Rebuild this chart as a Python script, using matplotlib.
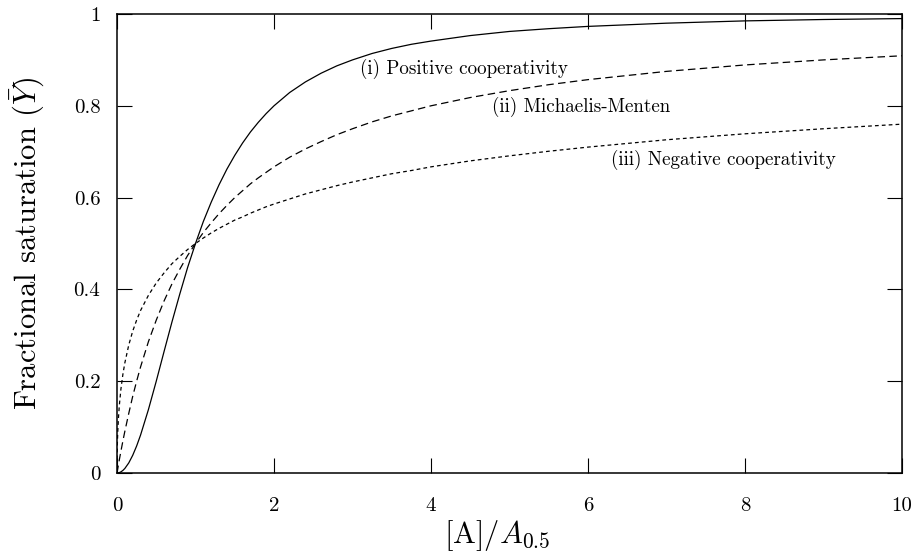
# Hill curves: fractional saturation vs normalised ligand concentration
import matplotlib
matplotlib.use("Agg")
import matplotlib.pyplot as plt

plt.rcParams['font.family'] = 'serif'
plt.rcParams['font.serif'] = ['cmr10']
plt.rcParams['mathtext.fontset'] = 'cm'
plt.rcParams['axes.formatter.use_mathtext'] = True

# values
conc = [0, 0.001, 0.005, 0.01, 0.02, 0.03, 0.05, 0.075, 0.1, 0.15, 0.2, 0.25,
        0.3, 0.4, 0.5, 0.6, 0.7, 0.8, 0.9, 1.0, 1.1, 1.2, 1.3, 1.4, 1.5, 1.6,
        1.7, 1.8, 1.9, 2.0, 2.2, 2.4, 2.6, 2.8, 3.0, 3.25, 3.5, 3.75, 4, 4.5,
        5, 5.5, 6, 7, 8, 9, 10]
positive = [0, 0, 0.00003, 0.0001, 0.0004, 0.0009, 0.0025, 0.0056, 0.0099,
            0.022, 0.0385, 0.0588, 0.0826, 0.138, 0.2, 0.265, 0.329, 0.390,
            0.448, 0.5, 0.548, 0.590, 0.628, 0.662, 0.692, 0.719, 0.743,
            0.764, 0.783, 0.8, 0.829, 0.852, 0.871, 0.887, 0.9, 0.914, 0.925,
            0.934, 0.941, 0.953, 0.962, 0.968, 0.973, 0.980, 0.985, 0.988,
            0.990]
michaelis = [0, 0.001, 0.005, 0.0099, 0.0196, 0.0291, 0.0476, 0.0698, 0.0909,
             0.130, 0.167, 0.2, 0.231, 0.286, 0.333, 0.375, 0.412, 0.444,
             0.474, 0.5, 0.524, 0.545, 0.565, 0.583, 0.6, 0.615, 0.630, 0.643,
             0.655, 0.667, 0.688, 0.706, 0.722, 0.737, 0.75, 0.765, 0.778,
             0.789, 0.8, 0.818, 0.833, 0.846, 0.857, 0.875, 0.889, 0.9, 0.909]
negative = [0, 0.031, 0.066, 0.0909, 0.124, 0.148, 0.183, 0.215, 0.240, 0.279,
            0.309, 0.333, 0.354, 0.387, 0.414, 0.436, 0.456, 0.472, 0.487,
            0.5, 0.512, 0.523, 0.533, 0.542, 0.551, 0.558, 0.566, 0.573,
            0.580, 0.586, 0.597, 0.608, 0.617, 0.626, 0.634, 0.643, 0.652,
            0.659, 0.667, 0.680, 0.691, 0.701, 0.710, 0.726, 0.739, 0.75,
            0.760]

labels = ['(i) Positive cooperativity', '(ii) Michaelis-Menten',
          '(iii) Negative cooperativity']
label_pos = [(3.10, 0.880), (4.78, 0.797), (6.29, 0.682)]

fig = plt.figure(figsize=(9.18, 5.51), dpi=100)
ax = fig.add_axes([117/918, 1 - 473/551, (902 - 117)/918, (473 - 14)/551])

ax.plot(conc, positive, color='black', lw=0.9)
ax.plot(conc, michaelis, color='black', lw=0.9, dashes=(6, 3.5))
ax.plot(conc, negative, color='black', lw=0.9, dashes=(3, 2.5))

for txt, (tx, ty) in zip(labels, label_pos):
    ax.text(tx, ty, txt, fontsize=13.7, ha='left', va='center')

ax.set_xlim(0, 10)
ax.set_ylim(0, 1)
ax.set_xticks([0, 2, 4, 6, 8, 10])
ax.set_yticks([0, 0.2, 0.4, 0.6, 0.8, 1])
ax.set_xticklabels(['0', '2', '4', '6', '8', '10'])
ax.set_yticklabels(['0', '0.2', '0.4', '0.6', '0.8', '1'])
ax.tick_params(direction='in', length=11, width=0.8, top=True, right=True,
               labelsize=15)
ax.tick_params(axis='x', pad=17)
ax.tick_params(axis='y', pad=12)
for sp in ax.spines.values():
    sp.set_linewidth(1.1)

ax.set_xlabel('[A]/$A_{0.5}$', fontsize=22)
ax.xaxis.set_label_coords(0.484, -0.097)
ax.set_ylabel(r'Fractional saturation ($\bar{Y}$)', fontsize=22, labelpad=19)

fig.savefig('out.png', dpi=100)
